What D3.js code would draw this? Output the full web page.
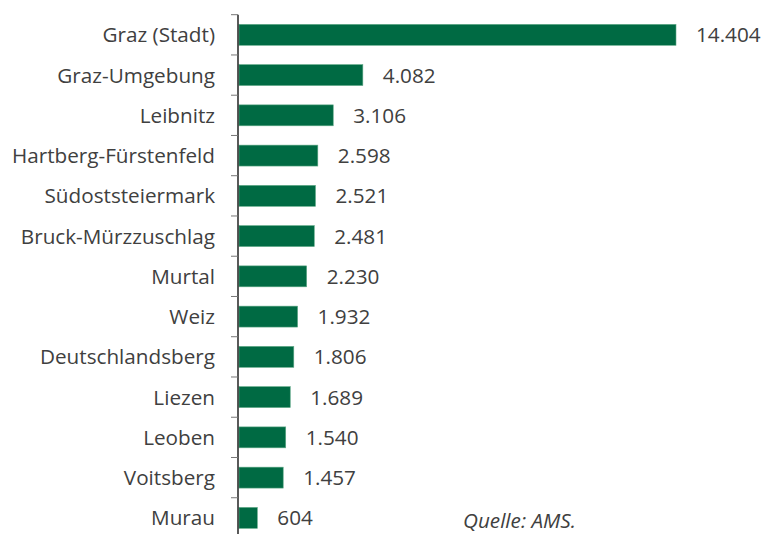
<!DOCTYPE html>
<html>
<head>
<meta charset="utf-8">
<script src="https://cdn.jsdelivr.net/npm/d3@7"></script>
<style>
  body { margin: 0; background: #fff; }
  svg { display: block; }
</style>
</head>
<body>
<script>
var width = 765, height = 534;

// districts, top to bottom
var regions = ["Graz (Stadt)", "Graz-Umgebung", "Leibnitz", "Hartberg-Fürstenfeld",
  "Südoststeiermark", "Bruck-Mürzzuschlag", "Murtal", "Weiz", "Deutschlandsberg",
  "Liezen", "Leoben", "Voitsberg", "Murau"];
var values = [14404, 4082, 3106, 2598, 2521, 2481, 2230, 1932, 1806, 1689, 1540, 1457, 604];
var source = "Quelle: AMS.";

var fmt = d3.formatLocale({ decimal: ",", thousands: ".", grouping: [3], currency: ["", "€"] }).format(",");

var svg = d3.select("body").append("svg")
  .attr("width", width)
  .attr("height", height);

var x = d3.scaleLinear()
  .domain([0, d3.max(values)])
  .range([239, 676]);

var y = d3.scaleBand()
  .domain(regions)
  .range([14.7, 538])
  .paddingInner(0.48)
  .paddingOuter(0.24);

var font = "'Open Sans', sans-serif";
var fs = "20.7px";

// bars
svg.selectAll("rect.bar")
  .data(values)
  .enter().append("rect")
  .attr("class", "bar")
  .attr("x", x(0))
  .attr("y", function (d, i) { return y(regions[i]); })
  .attr("width", function (d) { return x(d) - x(0); })
  .attr("height", y.bandwidth())
  .style("fill", "#006a43")
  .style("stroke", "#5fa987")
  .style("stroke-width", 0.6);

// value labels
svg.selectAll("text.val")
  .data(values)
  .enter().append("text")
  .attr("class", "val")
  .attr("x", function (d) { return x(d) + 20; })
  .attr("y", function (d, i) { return y(regions[i]) + y.bandwidth() / 2; })
  .attr("dy", "0.36em")
  .style("font-family", font)
  .style("font-size", fs)
  .style("fill", "#404040")
  .text(function (d) { return fmt(d); });

// category axis
var step = y.step();
var ticks = regions.map(function (r) { return y(r) - step * y.paddingInner() / 2; });

svg.append("line")
  .attr("x1", 238).attr("x2", 238)
  .attr("y1", ticks[0]).attr("y2", height)
  .style("stroke", "#000")
  .style("stroke-width", 1.3);

svg.selectAll("line.tick")
  .data(ticks)
  .enter().append("line")
  .attr("class", "tick")
  .attr("x1", 231).attr("x2", 238)
  .attr("y1", function (d) { return d; })
  .attr("y2", function (d) { return d; })
  .style("stroke", "#777")
  .style("stroke-width", 1);

svg.selectAll("text.cat")
  .data(regions)
  .enter().append("text")
  .attr("class", "cat")
  .attr("x", 215)
  .attr("y", function (d) { return y(d) + y.bandwidth() / 2; })
  .attr("dy", "0.36em")
  .attr("text-anchor", "end")
  .style("font-family", font)
  .style("font-size", fs)
  .style("fill", "#404040")
  .text(function (d) { return d; });

// source note
svg.append("text")
  .attr("x", 463)
  .attr("y", 528)
  .style("font-family", font)
  .style("font-size", fs)
  .style("font-style", "italic")
  .style("fill", "#404040")
  .text(source);
</script>
</body>
</html>
